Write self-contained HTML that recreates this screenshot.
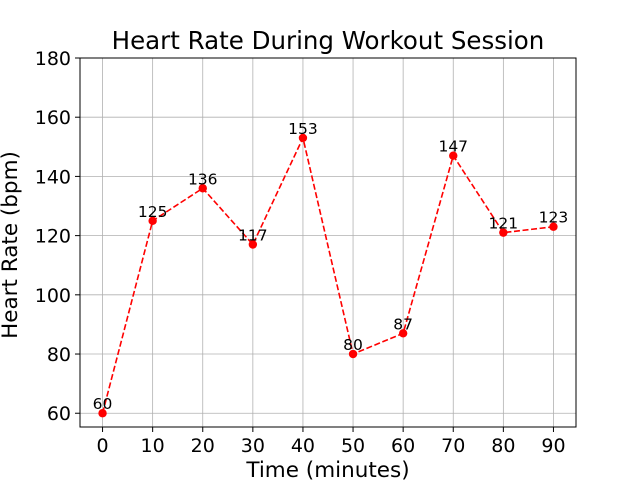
<!DOCTYPE html>
<html><head><meta charset="utf-8"><style>
body{margin:0;background:#fff;}
svg text{font-family:"DejaVu Sans","Liberation Sans",sans-serif;}
</style></head><body>
<svg id="chart" width="640" height="480">
<rect width="640" height="480" fill="#fff"/>
<g id="grid"></g>
<g id="xticks"></g>
<g id="yticks"></g>
<g id="series"></g>
<rect x="80" y="58" width="496" height="369" fill="none" stroke="#000" stroke-width="1"/>
<text x="328" y="49" text-anchor="middle" font-size="24.5">Heart Rate During Workout Session</text>
<text x="328" y="477" text-anchor="middle" font-size="21.5">Time (minutes)</text>
<text transform="translate(17,245) rotate(-90)" text-anchor="middle" font-size="21.5">Heart Rate (bpm)</text>
</svg>
<script>
const times=[0,10,20,30,40,50,60,70,80,90];
const rates=[60,125,136,117,153,80,87,147,121,123];
const xTicks=[0,10,20,30,40,50,60,70,80,90];
const yTicks=[60,80,100,120,140,160,180];
const X0=80,X1=576,Y0=427,Y1=58,xmin=-4.5,xmax=94.5,ymin=55.35,ymax=180;
const sx=v=>X0+(v-xmin)/(xmax-xmin)*(X1-X0);
const sy=v=>Y0-(v-ymin)/(ymax-ymin)*(Y0-Y1);
const NS="http://www.w3.org/2000/svg";
function mk(t,a,p){const e=document.createElementNS(NS,t);for(const k in a)e.setAttribute(k,a[k]);p.appendChild(e);return e;}
const grid=document.getElementById('grid'),gx=document.getElementById('xticks'),gy=document.getElementById('yticks'),gs=document.getElementById('series');
xTicks.forEach(t=>{const x=sx(t);
 let l=mk('line',{x1:x,x2:x,y1:Y1,y2:Y0,stroke:'#b0b0b0','stroke-width':0.8},grid);
 
 mk('line',{x1:x,x2:x,y1:Y0,y2:Y0+5,stroke:'#000'},gx);
 let tx=mk('text',{x:x,y:Y0+25,'text-anchor':'middle','font-size':'19'},gx);tx.textContent=t;
 });
yTicks.forEach(t=>{const y=sy(t);
 let l=mk('line',{x1:X0,x2:X1,y1:y,y2:y,stroke:'#b0b0b0','stroke-width':0.8},grid);
 
 mk('line',{x1:X0-5,x2:X0,y1:y,y2:y,stroke:'#000'},gy);
 let tx=mk('text',{x:X0-9,y:y+7,'text-anchor':'end','font-size':'19'},gy);tx.textContent=t;
 });
const pts=times.map((t,i)=>sx(t)+','+sy(rates[i])).join(' ');
let pl=mk('polyline',{points:pts,fill:'none',stroke:'#ff0000','stroke-width':1.6,'stroke-dasharray':'6,2.6'},gs);

times.forEach((t,i)=>{
 let c=mk('circle',{cx:sx(t),cy:sy(rates[i]),r:4.2,fill:'#ff0000'},gs);
 
 let a=mk('text',{x:sx(t),y:sy(rates[i])-4,'text-anchor':'middle','font-size':'15.5'},gs);a.textContent=rates[i];
 });
</script>
</body></html>
